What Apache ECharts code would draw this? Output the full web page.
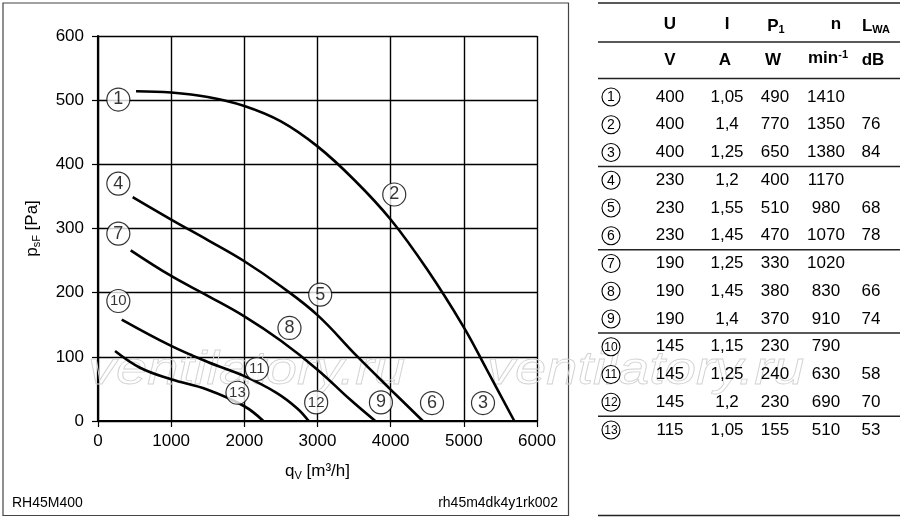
<!DOCTYPE html>
<html>
<head>
<meta charset="utf-8">
<script src="https://cdn.jsdelivr.net/npm/echarts@6/dist/echarts.min.js"></script>
<style>
html, body { margin: 0; padding: 0; background: #fff; }
#chart { width: 900px; height: 519px; }
</style>
</head>
<body>
<div id="chart"></div>
<script>
// fan curves, [qV m3/h, psF Pa]
const curve1to3 = [[520, 514], [1000, 512], [1500, 505], [2000, 491], [2500, 467], [3000, 428], [3500, 376], [4000, 314], [4500, 236], [5000, 146], [5300, 83], [5690, 0]];
const curve4to6 = [[474, 349], [1000, 314], [1500, 282], [2000, 249], [2500, 210], [3000, 165], [3540, 101], [4000, 49], [4440, 0]];
const curve7to9 = [[447, 266], [1000, 226], [1500, 195], [2000, 163], [2500, 125], [3000, 80], [3450, 33], [3790, 0]];
const curve10to12 = [[324, 158], [1000, 117], [1500, 92], [2000, 70], [2440, 44], [2720, 20], [2880, 0]];
const curve13 = [[233, 109], [575, 83], [1000, 65], [1490, 49], [2000, 23], [2260, 0]];

// operating point markers on the chart
const markerNames = ['1', '2', '3', '4', '5', '6', '7', '8', '9', '10', '11', '12', '13'];
const markerX = [278, 4049, 5262, 278, 3037, 4565, 278, 2617, 3867, 278, 2171, 2982, 1906];
const markerY = [501, 353, 28, 370, 197, 28, 292, 145, 29, 187, 81, 29, 44];

// table on the right
const colU = ['400', '400', '400', '230', '230', '230', '190', '190', '190', '145', '145', '145', '115'];
const colI = ['1,05', '1,4', '1,25', '1,2', '1,55', '1,45', '1,25', '1,45', '1,4', '1,15', '1,25', '1,2', '1,05'];
const colP = ['490', '770', '650', '400', '510', '470', '330', '380', '370', '230', '240', '230', '155'];
const colN = ['1410', '1350', '1380', '1170', '980', '1070', '1020', '830', '910', '790', '630', '690', '510'];
const colL = ['', '76', '84', '', '68', '78', '', '66', '74', '', '58', '70', '53'];
const groupEnds = [3, 6, 9, 12];

const FONT = '"Liberation Sans", Arial, Helvetica, sans-serif';
const chart = echarts.init(document.getElementById('chart'));

const curveSeries = [curve1to3, curve4to6, curve7to9, curve10to12, curve13].map(c => ({
    type: 'line',
    data: c,
    smooth: 0.4,
    showSymbol: false,
    silent: true,
    lineStyle: { color: '#000', width: 2.6 },
    z: 3
}));

const markerSeries = {
    type: 'scatter',
    symbol: 'circle',
    symbolSize: 23,
    silent: true,
    z: 5,
    itemStyle: { color: '#fff', borderColor: '#000', borderWidth: 1.2 },
    data: markerNames.map((n, i) => ({
        name: n,
        value: [markerX[i], markerY[i]],
        label: { fontSize: n.length > 1 ? 15 : 18 }
    })),
    label: {
        show: true,
        position: 'inside',
        formatter: '{b}',
        color: '#000',
        fontFamily: FONT
    }
};

// table graphics
const tbl = [];
const colX = [670, 727, 775, 826, 871];
const rowY0 = 97, rowDY = 27.75;
const txt = (x, y, text, extra) => ({
    type: 'text', x: x, y: y, z: 10,
    style: Object.assign({ text: text, fill: '#000', font: '17px ' + FONT, align: 'center', verticalAlign: 'middle' }, extra || {})
});
const hline = y => ({ type: 'line', z: 10, shape: { x1: 598, y1: y, x2: 900, y2: y }, style: { stroke: '#222', lineWidth: 1.4 } });

tbl.push(hline(3), hline(42), hline(78.5), hline(515.5));
const bold = 'bold 17px ' + FONT;
const richHead = {
    b: { font: bold, fill: '#000' },
    sub: { font: 'bold 11px ' + FONT, fill: '#000', verticalAlign: 'bottom', padding: [8, 0, 0, 0] },
    sup: { font: 'bold 11px ' + FONT, fill: '#000', verticalAlign: 'top', padding: [0, 0, 7, 0] }
};
tbl.push(txt(670, 24, 'U', { font: bold }));
tbl.push(txt(727, 24, 'I', { font: bold }));
tbl.push(txt(776, 26, '{b|P}{sub|1}', { rich: richHead }));
tbl.push(txt(836, 24, 'n', { font: bold }));
tbl.push(txt(876, 26, '{b|L}{sub|WA}', { rich: richHead }));
tbl.push(txt(670, 60, 'V', { font: bold }));
tbl.push(txt(725, 60, 'A', { font: bold }));
tbl.push(txt(773, 60, 'W', { font: bold }));
tbl.push(txt(828, 58, '{b|min}{sup|-1}', { rich: richHead }));
tbl.push(txt(873, 60, 'dB', { font: bold }));

colU.forEach((u, i) => {
    const y = rowY0 + i * rowDY;
    const id = String(i + 1);
    tbl.push({ type: 'circle', z: 10, shape: { cx: 611, cy: y, r: 9 }, style: { fill: '#fff', stroke: '#000', lineWidth: 1.1 } });
    tbl.push(txt(611, y + 0.5, id, { font: (id.length > 1 ? '12px ' : '14px ') + FONT }));
    [u, colI[i], colP[i], colN[i], colL[i]].forEach((v, k) => {
        if (v) tbl.push(txt(colX[k], y, v));
    });
    if (groupEnds.indexOf(i + 1) >= 0 && i + 1 < colU.length) {
        tbl.push(hline(y + 14));
    }
});

const watermark = [88, 487].map(x => ({
    type: 'text', x: x, y: 348, z: 1, scaleX: 1.22,
    style: {
        text: 'ventilatory.ru',
        font: 'italic 46px ' + FONT,
        fill: 'rgba(255,255,255,0)',
        stroke: '#d2d2d2',
        lineWidth: 0.8,
        verticalAlign: 'alphabetic'
    }
}));

const option = {
    animation: false,
    backgroundColor: '#fff',
    grid: { left: 98, right: 363, top: 36, bottom: 98, containLabel: false },
    xAxis: {
        type: 'value', min: 0, max: 6000, interval: 1000,
        name: '{a|q}{s|V}{a| [m³/h]}',
        nameLocation: 'middle', nameGap: 40,
        nameTextStyle: {
            rich: {
                a: { fontSize: 17, fontFamily: FONT, color: '#000' },
                s: { fontSize: 11, fontFamily: FONT, color: '#000', verticalAlign: 'bottom', padding: [9, 0, 0, 0] }
            }
        },
        axisLine: { lineStyle: { color: '#000', width: 2.2 } },
        axisTick: { show: true, length: 6, lineStyle: { color: '#000', width: 1.2 } },
        axisLabel: { margin: 12, fontSize: 17, fontFamily: FONT, color: '#000', formatter: v => String(v) },
        splitLine: { show: true, lineStyle: { color: '#000', width: 1.4 } }
    },
    yAxis: {
        type: 'value', min: 0, max: 600, interval: 100,
        name: '{a|p}{s|sF}{a| [Pa]}',
        nameLocation: 'middle', nameGap: 56, nameRotate: 90,
        nameTextStyle: {
            rich: {
                a: { fontSize: 17, fontFamily: FONT, color: '#000' },
                s: { fontSize: 11, fontFamily: FONT, color: '#000', verticalAlign: 'bottom', padding: [9, 0, 0, 0] }
            }
        },
        axisLine: { show: true, lineStyle: { color: '#000', width: 2.2 } },
        axisTick: { show: true, length: 6, lineStyle: { color: '#000', width: 1.2 } },
        axisLabel: { margin: 14, fontSize: 17, fontFamily: FONT, color: '#000', formatter: v => String(v) },
        splitLine: { show: true, lineStyle: { color: '#000', width: 1.4 } }
    },
    graphic: [
        { type: 'rect', z: 0, shape: { x: 3, y: 3, width: 565.5, height: 512.5 }, style: { fill: 'none', stroke: '#444', lineWidth: 1.2 } },
        { type: 'text', x: 12, y: 503, z: 10, style: { text: 'RH45M400', font: '14px ' + FONT, fill: '#000', verticalAlign: 'middle' } },
        { type: 'text', x: 558, y: 503, z: 10, style: { text: 'rh45m4dk4y1rk002', font: '14px ' + FONT, fill: '#000', align: 'right', verticalAlign: 'middle' } }
    ].concat(watermark, tbl),
    series: curveSeries.concat([markerSeries])
};

chart.setOption(option);
</script>
</body>
</html>
